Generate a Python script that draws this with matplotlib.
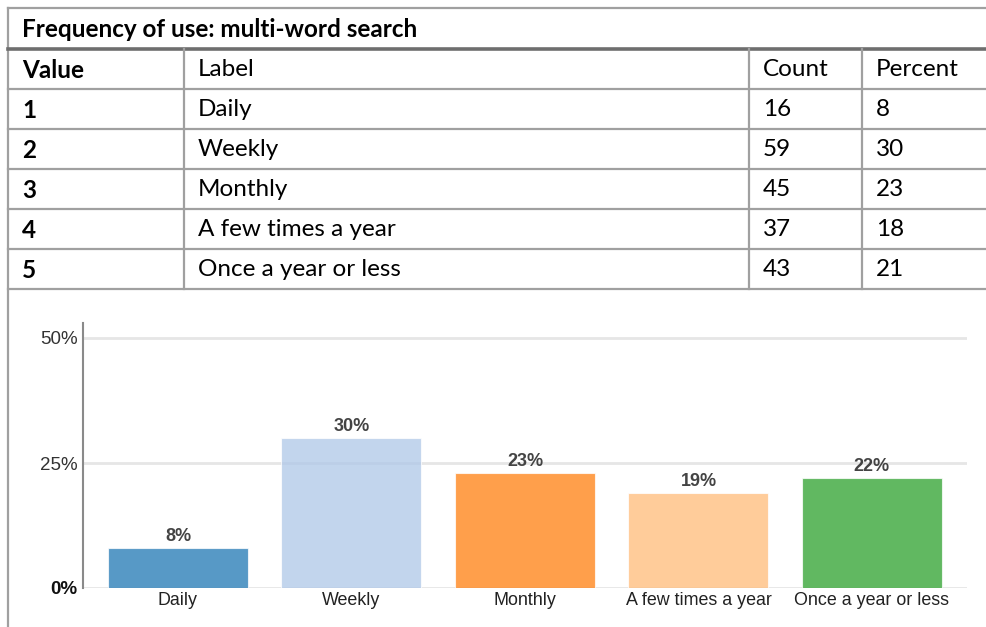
import matplotlib.pyplot as plt
from matplotlib.lines import Line2D

# -----------------------------------------------------------------------------
# DATA
# -----------------------------------------------------------------------------
TITLE = "Frequency of use: multi-word search"
HEADERS = ["Value", "Label", "Count", "Percent"]
VALUES = ["1", "2", "3", "4", "5"]
LABELS = ["Daily", "Weekly", "Monthly", "A few times a year", "Once a year or less"]
COUNTS = [16, 59, 45, 37, 43]
PERCENTS = [8, 30, 23, 18, 21]

# chart percentages (as shown on the bars)
CHART_PCT = [8, 30, 23, 19, 22]
Y_TICKS = [0, 25, 50]

# tableau-like colours, drawn at 0.75 alpha
BAR_COLORS = ["#1f77b4", "#aec7e8", "#ff7f0e", "#ffbb78", "#2ca02c"]

# -----------------------------------------------------------------------------
# LAYOUT (pixels)
# -----------------------------------------------------------------------------
W, H = 986, 627
TABLE_LEFT = 8
TABLE_TOP = 8
TITLE_BOTTOM = 49
ROW_H = 40
COL_X = [TABLE_LEFT, 184, 749, 862]
TEXT_PAD = 14
LINE_COLOR = "#a0a0a0"
TABLE_FONT = ["Lato", "DejaVu Sans"]
CHART_FONT = ["Liberation Sans", "DejaVu Sans"]

fig = plt.figure(figsize=(W / 100, H / 100), dpi=100)
fig.patch.set_facecolor("white")

# table drawn in a full-figure pixel axes
tab = fig.add_axes([0, 0, 1, 1])
tab.set_xlim(0, W)
tab.set_ylim(H, 0)
tab.axis("off")

n_rows = len(VALUES) + 1
table_bottom = TITLE_BOTTOM + n_rows * ROW_H

# outer lines
tab.add_line(Line2D([TABLE_LEFT, TABLE_LEFT], [TABLE_TOP, H], color=LINE_COLOR, lw=1.6))
tab.add_line(Line2D([TABLE_LEFT, W], [TABLE_TOP, TABLE_TOP], color=LINE_COLOR, lw=1.6))
tab.add_line(Line2D([TABLE_LEFT, W], [TITLE_BOTTOM, TITLE_BOTTOM], color="#6e6e6e", lw=2.6))
for r in range(1, n_rows + 1):
    y = TITLE_BOTTOM + r * ROW_H
    tab.add_line(Line2D([TABLE_LEFT, W], [y, y], color=LINE_COLOR, lw=1.6))
for x in COL_X[1:]:
    tab.add_line(Line2D([x, x], [TITLE_BOTTOM, table_bottom], color=LINE_COLOR, lw=1.6))

tab.text(TABLE_LEFT + TEXT_PAD, (TABLE_TOP + TITLE_BOTTOM) / 2 + 1, TITLE,
         fontsize=17.5, fontweight="bold", family=TABLE_FONT, va="center", ha="left", color="black")

rows = [HEADERS] + [[v, l, str(c), str(p)] for v, l, c, p in zip(VALUES, LABELS, COUNTS, PERCENTS)]
for r, row in enumerate(rows):
    yc = TITLE_BOTTOM + r * ROW_H + ROW_H / 2 + 1
    for c, cell in enumerate(row):
        weight = "bold" if (c == 0) else "normal"
        tab.text(COL_X[c] + TEXT_PAD, yc, cell, fontsize=17.5, fontweight=weight,
                 family=TABLE_FONT, va="center", ha="left", color="black")

# -----------------------------------------------------------------------------
# BAR CHART
# -----------------------------------------------------------------------------
ax = fig.add_axes([83 / W, (H - 588) / H, 884 / W, 265 / H])
x = list(range(len(LABELS)))
bars = ax.bar(x, CHART_PCT, width=0.807, color=BAR_COLORS, alpha=0.75,
              edgecolor="white", linewidth=0.8, zorder=3)

for rect, v in zip(bars, CHART_PCT):
    ax.annotate(f"{v}%", (rect.get_x() + rect.get_width() / 2, rect.get_height()),
                xytext=(0, 2.5), textcoords="offset points", ha="center", va="bottom",
                fontsize=13, fontweight="bold", color="#444444", family=CHART_FONT)

ax.set_xlim(-0.5476, 4.548)
ax.set_ylim(0, 53)
ax.set_yticks(Y_TICKS)
ax.set_yticklabels([f"{t}%" for t in Y_TICKS])
for lbl, t in zip(ax.get_yticklabels(), Y_TICKS):
    lbl.set_family(CHART_FONT)
    lbl.set_fontsize(13.5)
    if t == 0:
        lbl.set_fontweight("bold")
        lbl.set_color("#111111")
    else:
        lbl.set_color("#333333")

ax.set_xticks(x)
ax.set_xticklabels(LABELS, family=CHART_FONT, fontsize=12.9, color="#222222")
ax.tick_params(axis="both", length=0)
ax.tick_params(axis="x", pad=3)
ax.tick_params(axis="y", pad=4)

ax.yaxis.grid(True, color="#e6e6e6", linewidth=2, zorder=0)
ax.set_axisbelow(True)
for s in ["top", "right", "bottom"]:
    ax.spines[s].set_visible(False)
ax.spines["left"].set_color("#8a8a8a")
ax.spines["left"].set_linewidth(1.5)

fig.savefig("out.png", dpi=100, facecolor="white")
